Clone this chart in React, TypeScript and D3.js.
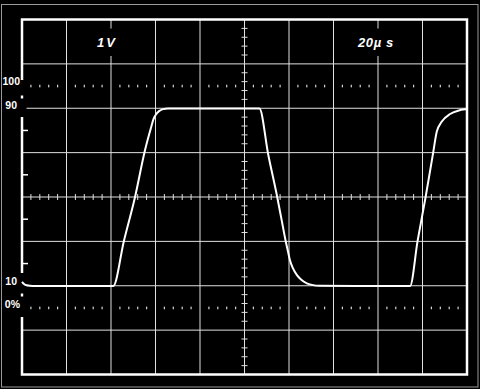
import React from "react";
import * as d3 from "d3";

// Waveform trace: time in µs (20 µs/div), level in % (0%..100% markers)
const traceTime = [0, 0.9, 2.2, 4.9, 41.0, 45.8, 50.8, 55.3, 58.2, 59.1, 60.2, 61.6, 63.4, 65.6, 106.7, 110.7, 114.7, 116.7, 118.5, 119.6, 120.4, 121.8, 123.5, 125.4, 128.0, 130.3, 133.9, 174.4, 177.8, 181.4, 184.8, 186.4, 188.6, 192.4, 196.0, 199.1, 200];
const traceLevel = [11.8, 10.8, 10.2, 9.9, 9.9, 30.2, 50.0, 71.2, 82.0, 85.1, 87.2, 88.7, 89.6, 89.9, 89.9, 68.9, 50.0, 39.6, 30.2, 25.2, 21.6, 17.8, 14.9, 12.8, 11.1, 10.4, 10.0, 9.9, 30.2, 50.0, 70.0, 79.4, 83.9, 87.4, 88.9, 89.5, 89.6];

const timeGrid = [0, 20, 40, 60, 80, 100, 120, 140, 160, 180, 200];
const levelGrid = [-30, -10, 10, 30, 50, 70, 90, 110, 130];
const markerLevels = [0, 100];
const sideTickLevels = [20, 40, 60, 80];
const levelLabels = [
  { text: "100", level: 100, dx: 20, dy: -4 },
  { text: "90", level: 90, dx: 17, dy: -2 },
  { text: "10", level: 10, dx: 17, dy: -4 },
  { text: "0%", level: 0, dx: 20, dy: -3 },
];
const voltLabel = "1V";
const timeLabel = "20µ s";

const W = 480;
const H = 389;

export default function App() {
  const x = d3.scaleLinear().domain([0, 200]).range([22, 467]);
  const y = d3.scaleLinear().domain([-30, 130]).range([374.5, 19.5]);

  const minorT = d3.range(0, 200.01, 4).filter((t) => Math.round(t) % 20 !== 0);
  const minorP = d3.range(-30, 130.01, 4).filter((p) => (((Math.round(p) + 30) % 20) + 20) % 20 !== 0);

  const pts = traceTime.map((t, i) => [t, traceLevel[i]] as [number, number]);
  const line = d3
    .line<[number, number]>()
    .x((d) => x(d[0]))
    .y((d) => y(d[1]))
    .curve(d3.curveMonotoneX);

  const cx = x(100);
  const cy = y(50);
  const grid = "#e0e0e0";
  const font = "'Liberation Sans', Arial, sans-serif";

  return (
    <svg
      width={W}
      height={H}
      style={{ position: "fixed", left: 0, top: 0, background: "#000" }}
    >
      <rect x={0} y={0} width={W} height={H} fill="#000" />
      <rect x={1.5} y={4.5} width={476.5} height={382.5} fill="none" stroke="#9a9a9a" strokeWidth={1} />

      {/* grid */}
      {timeGrid.slice(1, -1).map((t) => (
        <line key={"vx" + t} x1={x(t)} x2={x(t)} y1={y(130)} y2={y(-30)} stroke={grid} strokeWidth={1} />
      ))}
      {levelGrid.slice(1, -1).map((p) => (
        <line key={"hy" + p} x1={x(0)} x2={x(200)} y1={y(p)} y2={y(p)} stroke={grid} strokeWidth={1} />
      ))}

      {/* center axis minor ticks */}
      {minorT.map((t) => (
        <line key={"ct" + t} x1={x(t)} x2={x(t)} y1={cy - 3} y2={cy + 3} stroke={grid} strokeWidth={1} />
      ))}
      {minorP.map((p) => (
        <line key={"cp" + p} x1={cx - 3} x2={cx + 3} y1={y(p)} y2={y(p)} stroke={grid} strokeWidth={1} />
      ))}

      {/* 0% and 100% dotted markers */}
      {markerLevels.map((p) =>
        minorT.map((t) => (
          <rect key={"m" + p + "_" + t} x={x(t) - 0.6} y={y(p) - 1.3} width={1.2} height={2.6} fill="#d6d6d6" />
        ))
      )}

      {/* outer frame of graticule */}
      <rect x={x(0)} y={y(130)} width={x(200) - x(0)} height={y(-30) - y(130)} fill="none" stroke="#fff" strokeWidth={2.5} />

      {/* side ticks */}
      {sideTickLevels.map((p) => (
        <line key={"st" + p} x1={x(0)} x2={x(0) + 6} y1={y(p)} y2={y(p)} stroke="#fff" strokeWidth={1.5} />
      ))}

      {/* gaps for labels */}
      <rect x={17} y={80} width={9.5} height={37} fill="#000" />
      <rect x={17} y={273} width={9.5} height={44} fill="#000" />
      <rect x={20.8} y={95.5} width={2.4} height={3} fill="#fff" />
      <rect x={20.8} y={293.5} width={2.4} height={3} fill="#fff" />
      <rect x={x(40) - 16} y={28.5} width={32} height={27.5} fill="#000" />
      <rect x={x(160) - 24} y={28.5} width={48} height={27.5} fill="#000" />

      {/* labels */}
      {levelLabels.map((l) => (
        <text
          key={l.text}
          x={l.dx}
          y={y(l.level) + l.dy}
          textAnchor="end"
          dominantBaseline="middle"
          fill="#fff"
          fontFamily={font}
          fontWeight="bold"
          fontSize={10.5}
        >
          {l.text}
        </text>
      ))}
      <text x={97} y={46.5} fill="#fff" fontFamily={font} fontWeight="bold" fontStyle="italic" fontSize={13} letterSpacing={2}>
        {voltLabel}
      </text>
      <text x={358} y={46.5} fill="#fff" fontFamily={font} fontWeight="bold" fontStyle="italic" fontSize={13} letterSpacing={0.6}>
        {timeLabel}
      </text>

      {/* trace */}
      <path d={line(pts) || ""} fill="none" stroke="#fff" strokeWidth={2} strokeLinejoin="round" />
    </svg>
  );
}
